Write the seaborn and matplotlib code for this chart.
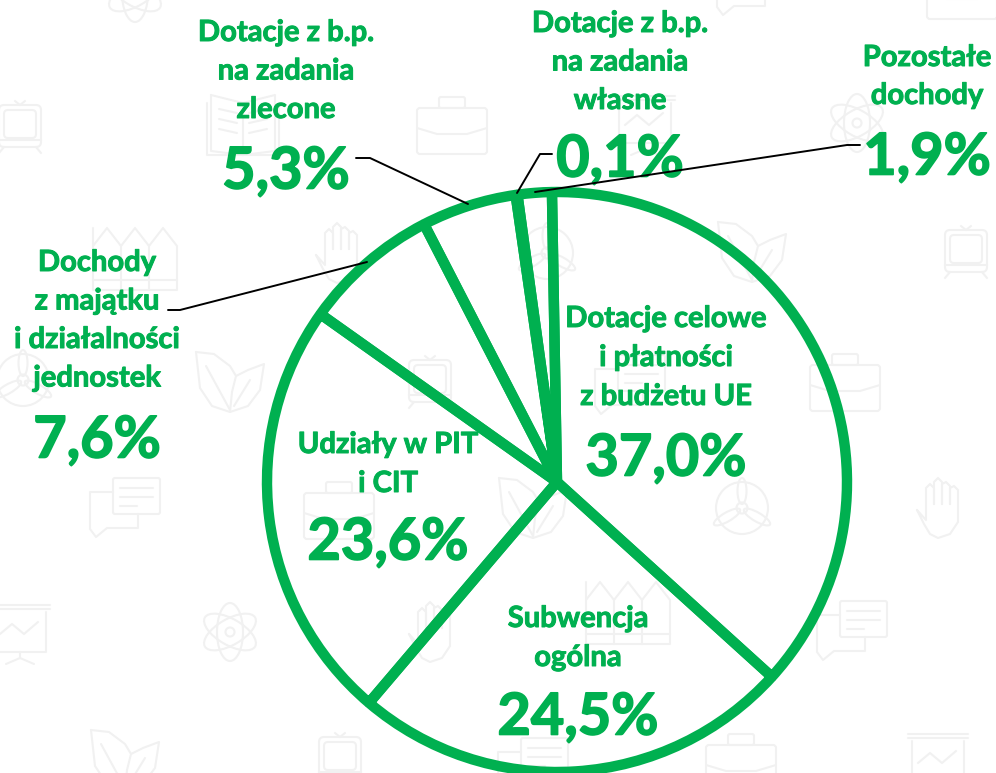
import matplotlib
matplotlib.use("Agg")
import matplotlib.pyplot as plt
import matplotlib.patheffects as pe
from matplotlib.patches import Ellipse, FancyBboxPatch
import seaborn as sns

labels = ["Dotacje celowe\ni płatności\nz budżetu UE", "Subwencja\nogólna", "Udziały w PIT\ni CIT",
          "Dochody\nz majątku\ni działalności\njednostek", "Dotacje z b.p.\nna zadania\nzlecone",
          "Dotacje z b.p.\nna zadania\nwłasne", "Pozostałe\ndochody"]
values = [37.0, 24.5, 23.6, 7.6, 5.3, 0.1, 1.9]
value_labels = ["37,0%", "24,5%", "23,6%", "7,6%", "5,3%", "0,1%", "1,9%"]

GREEN = "#00B050"
ICON = "#F1F1F1"
W, H = 996, 773
sns.set_theme(style="white")
plt.rcParams["font.family"] = ["Lato", "DejaVu Sans"]

fig = plt.figure(figsize=(W / 100, H / 100), dpi=100)
ax = fig.add_axes([0, 0, 1, 1])
ax.set_xlim(0, W)
ax.set_ylim(0, H)
Y = lambda py: H - py


# ---------- faint background icons (local coordinates, y down, about +-30) ----------
def line(cx, cy, pts):
    ax.plot([cx + p[0] for p in pts], [Y(cy + p[1]) for p in pts], color=ICON, lw=1.5, zorder=0,
            solid_capstyle="round", clip_on=True)


def box(cx, cy, x, y, w, h, r=3):
    ax.add_patch(FancyBboxPatch((cx + x, Y(cy + y + h)), w, h, boxstyle=f"round,pad=0,rounding_size={r}",
                                fc="none", ec=ICON, lw=1.5, zorder=0))


def ell(cx, cy, w, h, angle=0):
    ax.add_patch(Ellipse((cx, Y(cy)), w, h, angle=angle, fc="none", ec=ICON, lw=1.5, zorder=0))


def train(cx, cy):
    box(cx, cy, -21, -20, 42, 42, 5)
    box(cx, cy, -16, -15, 32, 28, 4)
    line(cx, cy, [(-21, 15), (21, 15)])
    line(cx, cy, [(-5, -24), (0, -20), (5, -24)])
    line(cx, cy, [(-16, 22), (-21, 28)])
    line(cx, cy, [(16, 22), (21, 28)])


def atom(cx, cy):
    for a in (0, 60, 120):
        ell(cx, cy, 26, 58, a)
    ell(cx, cy, 9, 9)


def briefcase(cx, cy):
    box(cx, cy, -35, -17, 70, 46, 3)
    box(cx, cy, -13, -28, 26, 11, 2)
    line(cx, cy, [(-35, 3), (-15, 9), (15, 9), (35, 3)])


def hand(cx, cy):
    line(cx, cy, [(-21, 2), (-12, 12), (-12, -20), (-8, -24), (-4, -20), (-4, -4), (-4, -26), (0, -30),
                  (4, -26), (4, -4), (4, -24), (8, -26), (12, -22), (12, -4), (12, -20), (16, -22), (20, -18),
                  (20, 14), (12, 26), (0, 30), (-8, 26), (-14, 16), (-21, 2)])


def leaf(cx, cy):
    line(cx, cy, [(-34, -30), (-16, -28), (0, -16), (6, -6), (2, 10), (0, 30), (-18, 24), (-30, 6), (-34, -30)])
    line(cx, cy, [(-24, -16), (0, 28)])
    line(cx, cy, [(0, 30), (18, 24), (30, 8), (34, -18), (18, -12), (6, -6)])
    line(cx, cy, [(20, -2), (4, 24)])


def turbine(cx, cy):
    ell(cx, cy, 11, 11)
    ell(cx, cy - 17, 9, 26)
    ell(cx + 15, cy + 9, 9, 30, 60)
    ell(cx - 15, cy + 9, 9, 30, -60)
    ell(cx, cy, 52, 52)


def chat(cx, cy):
    box(cx, cy, -12, -30, 47, 36, 2)
    line(cx, cy, [(-12, -16), (-35, -16), (-35, 21), (-29, 29), (-18, 20), (13, 20), (13, 6)])
    line(cx, cy, [(-5, -20), (28, -20)])
    line(cx, cy, [(-5, -11), (28, -11)])
    line(cx, cy, [(-5, -2), (12, -2)])


def presentation(cx, cy):
    line(cx, cy, [(-30, -29), (30, -29)])
    line(cx, cy, [(-30, -25), (30, -25)])
    line(cx, cy, [(-26, -22), (-26, 18), (26, 18), (26, -22)])
    line(cx, cy, [(-20, 0), (-8, -10), (4, 0), (18, -12)])
    line(cx, cy, [(0, 18), (0, 24), (-14, 30)])
    line(cx, cy, [(0, 24), (14, 30)])


def book(cx, cy):
    line(cx, cy, [(-36, -22), (-36, 30), (36, 30), (36, -22)])
    line(cx, cy, [(-32, -30), (-32, 26), (0, 30), (32, 26), (32, -30), (0, -22), (-32, -30)])
    line(cx, cy, [(0, -22), (0, 30)])
    for d in (-12, -2, 8):
        line(cx, cy, [(-24, d - 4), (-6, d)])
        line(cx, cy, [(6, d), (24, d - 4)])


def fence(cx, cy):
    line(cx, cy, [(-42, -30), (-42, 32), (42, 32), (42, -12), (28, -30), (14, -12), (0, -30), (-14, -12),
                  (-28, -30), (-42, -12)])
    line(cx, cy, [(-14, -12), (-14, 32)])
    line(cx, cy, [(14, -12), (14, 32)])
    line(cx, cy, [(-42, 22), (42, 22)])


for fn, places in [
    (train, [(20, 125), (966, 250), (430, 380), (340, 757)]),
    (atom, [(135, -7), (857, 123), (230, 632)]),
    (briefcase, [(452, 125), (845, 382), (741, 762), (339, 510), (962, -10)]),
    (hand, [(337, 253), (938, 508), (430, 632)]),
    (leaf, [(752, 252), (533, 508), (230, 382), (125, 760)]),
    (turbine, [(742, 508), (547, 253), (23, 380)]),
    (chat, [(125, 508), (852, 631), (533, 768), (630, 385), (752, -14)]),
    (presentation, [(20, 634), (938, 763), (645, 125)]),
    (book, [(243, 125)]),
    (fence, [(135, 258), (628, 612)]),
]:
    for p in places:
        fn(*p)

# ---------- pie ----------
ax.pie(values, startangle=91, counterclock=False, center=(557, Y(482)), radius=290,
       colors=["none"] * len(values), frame=True,
       wedgeprops=dict(edgecolor=GREEN, linewidth=7.5, joinstyle="bevel", zorder=2))
ax.set_xlim(0, W)
ax.set_ylim(0, H)
ax.set_aspect("equal")
ax.axis("off")

# (label centre x, first-line y, percent y)
label_pos = [(666, 319, 459), (578, 619, 718), (388, 445, 543), (97, 263, 441),
             (286, 33, 172), (620, 24, 160), (927, 58, 158)]
line_h = [39, 39, 39, 38.5, 38.5, 38.5, 38]
stroke = [pe.withStroke(linewidth=0.7, foreground=GREEN)]
for lab, val, (x, y, vy), lh in zip(labels, value_labels, label_pos, line_h):
    for i, part in enumerate(lab.split("\n")):
        ax.text(x, Y(y + i * lh), part, color=GREEN, fontsize=21, fontweight="bold",
                ha="center", va="center", path_effects=stroke, zorder=4)
    ax.text(x, Y(vy), val, color=GREEN, fontsize=41.5, fontweight="bold", ha="center", va="center",
            path_effects=[pe.withStroke(linewidth=1.2, foreground=GREEN)], zorder=4)

# leader lines
for xs, ys in [([168, 180, 367], [310, 310, 262]),
               ([356, 370, 468], [158, 158, 204]),
               ([552, 540, 517], [154, 154, 193]),
               ([860, 847, 535], [145, 145, 192])]:
    ax.plot(xs, [Y(v) for v in ys], color="black", lw=1.4, zorder=5)

fig.savefig("out.png", dpi=100, facecolor="white")
